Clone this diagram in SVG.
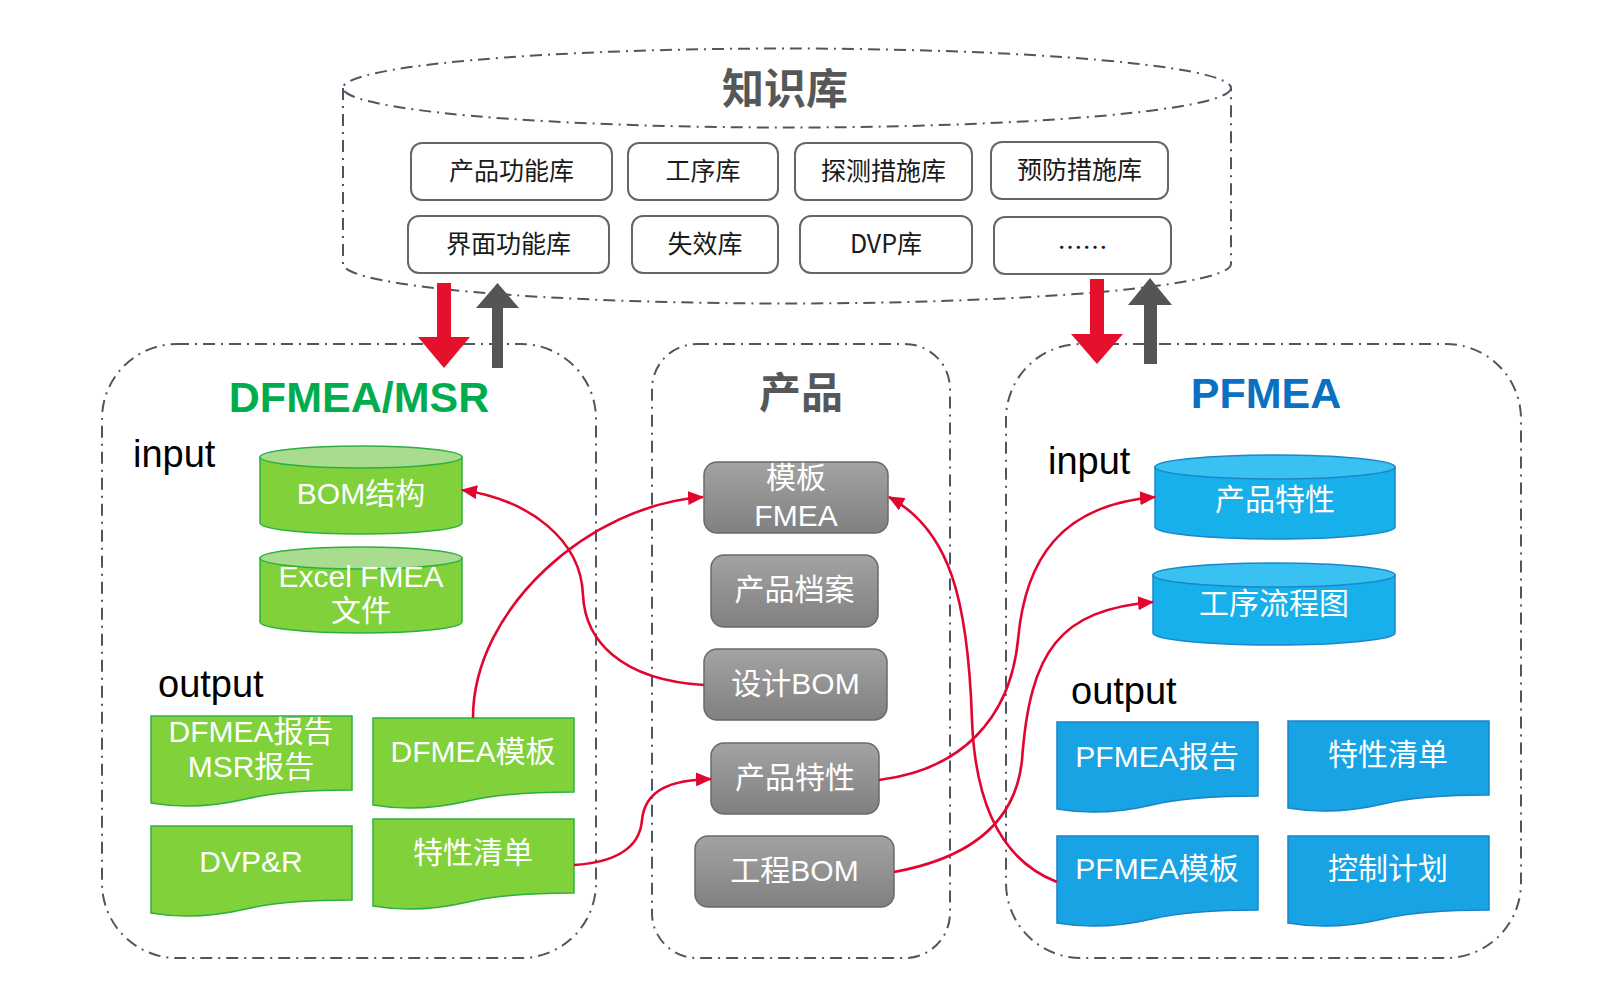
<svg xmlns="http://www.w3.org/2000/svg" width="1598" height="1004" viewBox="0 0 1598 1004">
<style>
text{font-family:"Liberation Sans","Noto Sans CJK SC",sans-serif;}
.dd{fill:none;stroke:#4f5663;stroke-width:2;stroke-dasharray:12 6 2 6;}
.kb rect{fill:#fff;stroke:#666;stroke-width:2;}
.kb text{font-family:"Noto Sans CJK SC","Liberation Sans",sans-serif;font-size:25px;fill:#1a1a1a;text-anchor:middle;dominant-baseline:central;}
.gb rect{fill:url(#gg);stroke:#6a6a6a;stroke-width:1.5;}
.wt{fill:#fff;font-size:30px;text-anchor:middle;dominant-baseline:central;}
.gcb{fill:#80d13a;stroke:#2cb043;stroke-width:1.5;}
.gct{fill:#a9dc8e;stroke:#2cb043;stroke-width:1.5;}
.bcb{fill:#17b0ea;stroke:#1b86cc;stroke-width:1.5;}
.bct{fill:#39c1f1;stroke:#1b86cc;stroke-width:1.5;}
.gdoc{fill:#80d13a;stroke:#2cb043;stroke-width:1.5;}
.bdoc{fill:#17a3e4;stroke:#1b84c8;stroke-width:1.5;}
.lbl{font-size:38px;fill:#000;}
.conn path{fill:none;stroke:#e2062f;stroke-width:2.6;}
</style>
<defs>
<linearGradient id="gg" x1="0" y1="0" x2="0" y2="1">
<stop offset="0" stop-color="#a3a3a3"/>
<stop offset="1" stop-color="#808080"/>
</linearGradient>
<marker id="ah" markerUnits="userSpaceOnUse" markerWidth="18" markerHeight="14" refX="15" refY="7" orient="auto">
<path d="M0,0 L16,7 L0,14 Z" fill="#e2062f"/>
</marker>
<path id="doc" d="M0,0 H201 V74 C160,74 120,77 95,83 C65,90 35,93 0,87 Z"/>
</defs>
<rect width="1598" height="1004" fill="#fff"/>

<!-- knowledge base cylinder -->
<g id="kb">
<ellipse class="dd" cx="787" cy="88" rx="444" ry="39.5"/>
<path class="dd" d="M343,88 V264 A444,39.5 0 0 0 1231,264 V88"/>
<text x="785" y="104" text-anchor="middle" style="font-family:'Noto Sans CJK SC',sans-serif;font-size:42px;font-weight:bold;fill:#575757;">知识库</text>
</g>
<g id="kb-items" class="kb">
<g id="kb1"><rect x="411" y="143" width="201" height="57" rx="11"/><text x="511.5" y="168.5">产品功能库</text></g>
<g id="kb2"><rect x="628" y="143" width="150" height="57" rx="11"/><text x="703" y="168.5">工序库</text></g>
<g id="kb3"><rect x="795" y="143" width="177" height="57" rx="11"/><text x="883.5" y="168.5">探测措施库</text></g>
<g id="kb4"><rect x="991" y="142" width="177" height="57" rx="11"/><text x="1079.5" y="167.5">预防措施库</text></g>
<g id="kb5"><rect x="408" y="216" width="201" height="57" rx="11"/><text x="508.5" y="241.5">界面功能库</text></g>
<g id="kb6"><rect x="632" y="216" width="146" height="57" rx="11"/><text x="705" y="241.5">失效库</text></g>
<g id="kb7"><rect x="800" y="216" width="172" height="57" rx="11"/><text x="886" y="241.5">DVP库</text></g>
<g id="kb8"><rect x="994" y="217" width="177" height="57" rx="11"/><text x="1082.5" y="246">……</text></g>
</g>

<!-- containers -->
<g id="dfmea-box"><rect class="dd" x="102" y="344" width="494" height="614" rx="75"/>
<text x="359" y="412" text-anchor="middle" style="font-size:43px;font-weight:bold;fill:#00ac4d;">DFMEA/MSR</text>
<text class="lbl" x="133" y="467">input</text>
<text class="lbl" x="158" y="697">output</text>
</g>
<g id="product-box"><rect class="dd" x="652" y="344" width="298" height="614" rx="45"/>
<text x="801" y="408" text-anchor="middle" style="font-family:'Noto Sans CJK SC',sans-serif;font-size:42px;font-weight:bold;fill:#575757;">产品</text>
</g>
<g id="pfmea-box"><rect class="dd" x="1006" y="344" width="515" height="614" rx="75"/>
<text x="1266" y="408" text-anchor="middle" style="font-size:43px;font-weight:bold;fill:#0a70c2;">PFMEA</text>
<text class="lbl" x="1048" y="474">input</text>
<text class="lbl" x="1071" y="704">output</text>
</g>

<!-- big arrows -->
<g id="arrows-kb">
<path d="M437,283 H451 V337 H470 L444,368 L418,337 H437 Z" fill="#e5102b"/>
<path d="M492,368 V308 H476 L497.5,283 L519,308 H503 V368 Z" fill="#555"/>
<path d="M1090,279 H1104 V334 H1123 L1097,364 L1071,334 H1090 Z" fill="#e5102b"/>
<path d="M1144,364 V305 H1128 L1150,278 L1172,305 H1157 V364 Z" fill="#555"/>
</g>

<!-- green cylinders -->
<g id="bom-struct">
<path class="gcb" d="M260,457 V523 A101,11 0 0 0 462,523 V457 Z"/>
<ellipse class="gct" cx="361" cy="457" rx="101" ry="11"/>
<text class="wt" x="361" y="493">BOM结构</text>
</g>
<g id="excel-fmea">
<path class="gcb" d="M260,558 V622 A101,11 0 0 0 462,622 V558 Z"/>
<ellipse class="gct" cx="361" cy="558" rx="101" ry="11"/>
<text class="wt" x="361" y="576">Excel FMEA</text>
<text class="wt" x="361" y="610">文件</text>
</g>

<!-- green docs -->
<g id="dfmea-report"><use href="#doc" class="gdoc" x="151" y="716"/>
<text class="wt" x="251" y="731">DFMEA报告</text><text class="wt" x="251" y="766">MSR报告</text></g>
<g id="dfmea-template"><use href="#doc" class="gdoc" x="373" y="718"/>
<text class="wt" x="473" y="751">DFMEA模板</text></g>
<g id="dvpr"><use href="#doc" class="gdoc" x="151" y="826"/>
<text class="wt" x="251" y="861">DVP&amp;R</text></g>
<g id="char-list-g"><use href="#doc" class="gdoc" x="373" y="819"/>
<text class="wt" x="473" y="852">特性清单</text></g>

<!-- gray product boxes -->
<g class="gb">
<g id="tpl-fmea"><rect x="704" y="462" width="184" height="71" rx="13"/><text class="wt" x="796" y="477">模板</text><text class="wt" x="796" y="515">FMEA</text></g>
<g id="prod-file"><rect x="711" y="555" width="167" height="72" rx="13"/><text class="wt" x="794.5" y="589">产品档案</text></g>
<g id="design-bom"><rect x="704" y="649" width="183" height="71" rx="13"/><text class="wt" x="795.5" y="683">设计BOM</text></g>
<g id="prod-char"><rect x="711" y="743" width="168" height="71" rx="13"/><text class="wt" x="795" y="777">产品特性</text></g>
<g id="eng-bom"><rect x="695" y="836" width="199" height="71" rx="13"/><text class="wt" x="794.5" y="870">工程BOM</text></g>
</g>

<!-- blue cylinders -->
<g id="pf-char">
<path class="bcb" d="M1155,467 V527 A120,12 0 0 0 1395,527 V467 Z"/>
<ellipse class="bct" cx="1275" cy="467" rx="120" ry="12"/>
<text class="wt" x="1275" y="499">产品特性</text>
</g>
<g id="process-flow">
<path class="bcb" d="M1153,575 V633 A121,12 0 0 0 1395,633 V575 Z"/>
<ellipse class="bct" cx="1274" cy="575" rx="121" ry="12"/>
<text class="wt" x="1274" y="603">工序流程图</text>
</g>

<!-- blue docs -->
<g id="pfmea-report"><use href="#doc" class="bdoc" x="1057" y="722"/><text class="wt" x="1157" y="756">PFMEA报告</text></g>
<g id="char-list-b"><use href="#doc" class="bdoc" x="1288" y="721"/><text class="wt" x="1388" y="754">特性清单</text></g>
<g id="pfmea-template"><use href="#doc" class="bdoc" x="1057" y="836"/><text class="wt" x="1157" y="868">PFMEA模板</text></g>
<g id="control-plan"><use href="#doc" class="bdoc" x="1288" y="836"/><text class="wt" x="1388" y="868">控制计划</text></g>

<!-- connectors -->
<g id="connectors" class="conn">
<path d="M704,685 C620,680 585,640 583,595 C581,540 530,500 462,490" marker-end="url(#ah)"/>
<path d="M473,718 C473,608 590,505 703,497" marker-end="url(#ah)"/>
<path d="M574,865 C620,862 640,845 642,820 C645,790 670,780 711,779" marker-end="url(#ah)"/>
<path d="M879,780 C960,770 1010,720 1018,640 C1025,560 1060,505 1155,497" marker-end="url(#ah)"/>
<path d="M894,872 C960,860 1015,830 1022,760 C1030,650 1060,610 1153,602" marker-end="url(#ah)"/>
<path d="M1057,882 C1000,860 975,800 972,720 C968,600 950,530 889,497" marker-end="url(#ah)"/>
</g>
</svg>
